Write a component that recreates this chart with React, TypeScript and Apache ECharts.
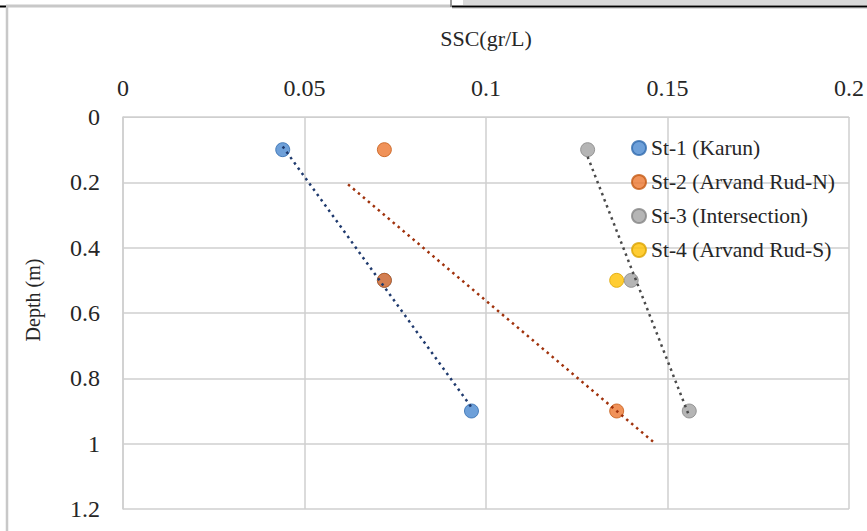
import React, { useEffect, useRef } from "react";
import * as echarts from "echarts";

const seriesNames = ["St-1 (Karun)", "St-2 (Arvand Rud-N)", "St-3 (Intersection)", "St-4 (Arvand Rud-S)"];
const depths = [0.1, 0.5, 0.9];
const st1Ssc = [0.044, 0.072, 0.096];
const st2Ssc = [0.072, 0.072, 0.136];
const st3Ssc = [0.128, 0.14, 0.156];
const st4Depths = [0.5];
const st4Ssc = [0.136];
const markerColors = ["#4a88cf", "#ec772f", "#a3a3a3", "#ffc000"];
const markerBorders = ["#2f6aae", "#c45a14", "#858585", "#dca400"];
const trendColors = ["#1f3a6e", "#a0320c", "#4a4a4a"];
const trendForecast = [0, 0.01, 0];
const xTicks = [0, 0.05, 0.1, 0.15, 0.2];
const yTicks = [0, 0.2, 0.4, 0.6, 0.8, 1, 1.2];

function regressionLine(xs: number[], ys: number[], ext: number): number[][] {
  const n = xs.length;
  const mx = xs.reduce((a, b) => a + b, 0) / n;
  const my = ys.reduce((a, b) => a + b, 0) / n;
  let sxx = 0, sxy = 0;
  for (let i = 0; i < n; i++) {
    sxx += (xs[i] - mx) * (xs[i] - mx);
    sxy += (xs[i] - mx) * (ys[i] - my);
  }
  const slope = sxy / sxx;
  const x0 = Math.min(...xs) - ext;
  const x1 = Math.max(...xs) + ext;
  return [
    [x0, my + slope * (x0 - mx)],
    [x1, my + slope * (x1 - mx)],
  ];
}

export default function App() {
  const ref = useRef<HTMLDivElement>(null);
  useEffect(() => {
    if (!ref.current) return;
    const chart = echarts.init(ref.current, null, { renderer: "svg" });
    const font = "Liberation Serif";
    const allX = [st1Ssc, st2Ssc, st3Ssc];
    const scatter = [...allX, st4Ssc].map((xs, i) => ({
      name: seriesNames[i],
      type: "scatter",
      symbol: "circle",
      symbolSize: 14,
      z: 3,
      itemStyle: { color: markerColors[i], borderColor: markerBorders[i], borderWidth: 1 },
      data: xs.map((x, j) => [x, i === 3 ? st4Depths[j] : depths[j]]),
    }));
    const trends = allX.map((xs, i) => ({
      name: "trend" + i,
      type: "line",
      symbol: "none",
      z: 5,
      silent: true,
      lineStyle: { color: trendColors[i], width: 2.5, type: [2.5, 4] },
      data: regressionLine(xs, depths, trendForecast[i]),
    }));
    chart.setOption({
      animation: false,
      backgroundColor: "#ffffff",
      grid: { left: 123, top: 117, width: 727, height: 392 },
      legend: {
        data: seriesNames,
        orient: "vertical",
        left: 626,
        top: 132,
        itemGap: 12,
        itemWidth: 14,
        itemHeight: 14,
        icon: "circle",
        textStyle: { fontFamily: font, fontSize: 21.5, color: "#262626" },
      },
      xAxis: {
        type: "value",
        position: "top",
        min: 0,
        max: 0.2,
        interval: 0.05,
        name: "SSC(gr/L)",
        nameLocation: "middle",
        nameGap: 68,
        nameTextStyle: { fontFamily: font, fontSize: 22, color: "#262626" },
        axisLine: { show: true, lineStyle: { color: "#cfcfcf" } },
        axisTick: { show: false },
        axisLabel: {
          fontFamily: font,
          fontSize: 24,
          color: "#262626",
          margin: 17,
          formatter: (v: number) => String(xTicks.find((t) => Math.abs(t - v) < 1e-9) ?? v),
        },
        splitLine: { show: true, lineStyle: { color: "#cfcfcf", width: 1.5 } },
      },
      yAxis: {
        type: "value",
        inverse: true,
        min: 0,
        max: 1.2,
        interval: 0.2,
        name: "Depth (m)",
        nameLocation: "middle",
        nameGap: 80,
        nameTextStyle: { fontFamily: font, fontSize: 20, color: "#262626", padding: [0, 0, 0, 26] },
        axisLine: { show: true, lineStyle: { color: "#cfcfcf", width: 1.5 } },
        axisTick: { show: false },
        axisLabel: {
          fontFamily: font,
          fontSize: 24,
          color: "#262626",
          margin: 23,
          formatter: (v: number) => String(yTicks.find((t) => Math.abs(t - v) < 1e-9) ?? v),
        },
        splitLine: { show: true, lineStyle: { color: "#cfcfcf", width: 1.5 } },
      },
      graphic: [
        { type: "rect", shape: { x: 463, y: 0, width: 404, height: 5 }, style: { fill: "#d9d9d9" } },
        { type: "line", shape: { x1: 452, y1: 6.5, x2: 867, y2: 6.5 }, style: { stroke: "#000", lineWidth: 2 } },
        { type: "line", shape: { x1: 0, y1: 6.5, x2: 6, y2: 6.5 }, style: { stroke: "#000", lineWidth: 2 } },
        { type: "line", shape: { x1: 6, y1: 6, x2: 452, y2: 6 }, style: { stroke: "#c8c8c8", lineWidth: 3 } },
        { type: "line", shape: { x1: 451, y1: 0, x2: 451, y2: 7 }, style: { stroke: "#777", lineWidth: 1.5 } },
        { type: "line", shape: { x1: 452, y1: 8.5, x2: 867, y2: 8.5 }, style: { stroke: "#dddddd", lineWidth: 1 } },
        { type: "line", shape: { x1: 7, y1: 7, x2: 7, y2: 531 }, style: { stroke: "#c8c8c8", lineWidth: 2.5 } },
      ],
      series: [...scatter, ...trends],
    });
    return () => chart.dispose();
  }, []);
  return <div ref={ref} style={{ width: 867, height: 531, position: "absolute", left: 0, top: 0 }} />;
}
